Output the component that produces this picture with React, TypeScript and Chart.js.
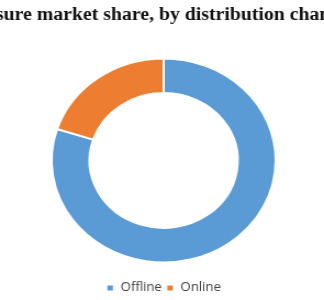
import React, { useEffect, useRef } from "react";
import { Chart, registerables } from "chart.js";

Chart.register(...registerables);

const titleText = "Leisure market share, by distribution channel";
const categories = ["Offline", "Online"];
const shares = [80, 20];
const colors = ["#5B9BD5", "#ED7D31"];

const INTERNAL_W = 295;
const H = 300;

const titlePlugin = {
  id: "freeTitle",
  afterDraw(chart: any) {
    const ctx = chart.ctx;
    ctx.save();
    ctx.font = 'bold 18px "Liberation Serif", "DejaVu Serif", serif';
    ctx.fillStyle = "#111111";
    ctx.textAlign = "center";
    ctx.textBaseline = "middle";
    ctx.fillText(titleText, chart.width / 2, 15);
    ctx.restore();
  },
};

export default function App() {
  const ref = useRef<HTMLCanvasElement>(null);
  useEffect(() => {
    if (!ref.current) return;
    const chart = new Chart(ref.current, {
      type: "doughnut",
      data: {
        labels: categories,
        datasets: [
          {
            data: shares,
            backgroundColor: colors,
            borderColor: "#ffffff",
            borderWidth: 2,
            radius: 102,
            cutout: 77,
          } as any,
        ],
      },
      options: {
        animation: false,
        responsive: false,
        devicePixelRatio: 1,
        layout: { padding: { top: 43, left: 3, bottom: -4 } },
        plugins: {
          title: { display: false },
          tooltip: { enabled: false },
          legend: {
            position: "bottom",
            labels: {
              boxWidth: 7,
              boxHeight: 7,
              padding: 4,
              color: "#404040",
              font: { size: 12, family: '"Open Sans", "Noto Sans", sans-serif' },
            },
          },
        },
      },
      plugins: [titlePlugin],
    });
    return () => chart.destroy();
  }, []);
  return (
    <div style={{ position: "fixed", left: 0, top: 0, width: 324, height: H, overflow: "hidden", background: "#fff" }}>
      <canvas
        ref={ref}
        width={INTERNAL_W}
        height={H}
        style={{ display: "block", width: "324px", height: H + "px" }}
      />
    </div>
  );
}
